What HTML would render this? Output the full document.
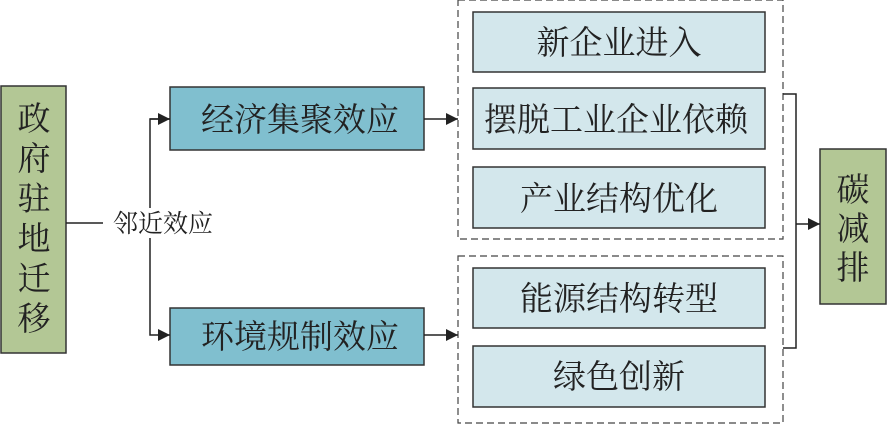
<!DOCTYPE html>
<html><head><meta charset="utf-8"><style>html,body{margin:0;padding:0;background:#fff}svg{display:block}text{font-family:"Noto Serif CJK SC","Liberation Serif",serif;fill:#222}</style></head>
<body>
<svg width="887" height="424" viewBox="0 0 887 424" xmlns="http://www.w3.org/2000/svg">
<defs><marker id="a" viewBox="0 0 10 10" refX="10" refY="5" markerWidth="13" markerHeight="12" markerUnits="userSpaceOnUse" orient="auto"><path d="M0,0L10,5L0,10z" fill="#222"/></marker></defs>
<g stroke="#333" stroke-width="1.5">
<rect x="1" y="86" width="65" height="267" fill="#b3c795"/>
<rect x="170" y="87" width="254" height="63" fill="#80bfcf"/>
<rect x="170" y="308" width="254" height="57" fill="#80bfcf"/>
<rect x="473" y="12" width="292" height="60" fill="#d3e7ec"/>
<rect x="473" y="88" width="292" height="61" fill="#d3e7ec"/>
<rect x="473" y="167" width="292" height="61" fill="#d3e7ec"/>
<rect x="473" y="268" width="292" height="60" fill="#d3e7ec"/>
<rect x="473" y="346" width="292" height="61" fill="#d3e7ec"/>
<rect x="820" y="149" width="66" height="155" fill="#b3c795"/>
</g>
<g stroke="#444" stroke-width="1.2" fill="none" stroke-dasharray="7,4">
<rect x="458" y="0" width="325" height="239"/>
<rect x="458" y="256" width="325" height="167"/>
</g>
<g stroke="#222" stroke-width="1.5" fill="none">
<line x1="66" y1="223" x2="103" y2="223"/>
<polyline points="170,119 150,119 150,335 170,335" marker-end="url(#a)"/>
<line x1="150" y1="119" x2="170" y2="119" marker-end="url(#a)"/>
<line x1="424" y1="119" x2="458" y2="119" marker-end="url(#a)"/>
<line x1="424" y1="335" x2="458" y2="335" marker-end="url(#a)"/>
<polyline points="783,94 796,94 796,348 783,348"/>
<line x1="796" y1="224" x2="820" y2="224" marker-end="url(#a)"/>
</g>
<rect x="106" y="208" width="112" height="30" fill="#fff"/>
<text x="163" y="232" font-size="25" text-anchor="middle">邻近效应</text>
<g font-size="33" text-anchor="middle">
<text x="34" y="130">政</text><text x="34" y="170">府</text><text x="34" y="210">驻</text><text x="34" y="250">地</text><text x="34" y="290">迁</text><text x="34" y="330">移</text>
<text x="300" y="131">经济集聚效应</text>
<text x="300" y="348">环境规制效应</text>
<text x="619" y="54">新企业进入</text>
<text x="616" y="131">摆脱工业企业依赖</text>
<text x="619" y="210">产业结构优化</text>
<text x="619" y="310">能源结构转型</text>
<text x="619" y="388">绿色创新</text>
<text x="853" y="201">碳</text><text x="853" y="240">减</text><text x="853" y="279">排</text>
</g>
</svg>
</body></html>
